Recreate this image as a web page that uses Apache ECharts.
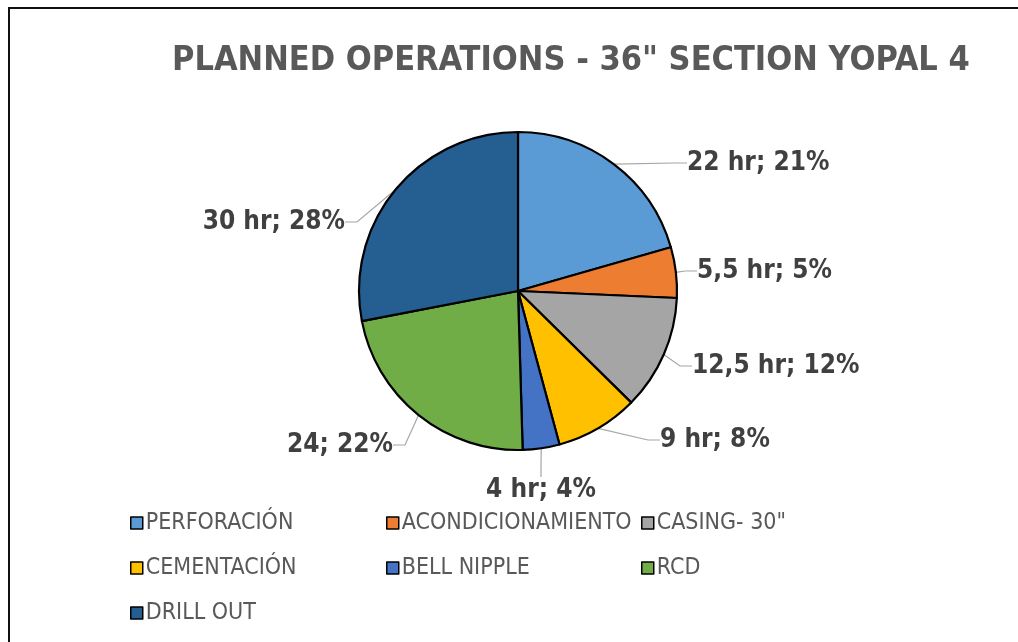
<!DOCTYPE html>
<html>
<head>
<meta charset="utf-8">
<script src="https://cdn.jsdelivr.net/npm/echarts@6/dist/echarts.min.js"></script>
<style>
  html, body { margin: 0; padding: 0; background: #fff; }
  #chart { width: 1018px; height: 642px; }
</style>
</head>
<body>
<div id="chart"></div>
<script>
const categories = ['PERFORACIÓN', 'ACONDICIONAMIENTO', 'CASING- 30"', 'CEMENTACIÓN', 'BELL NIPPLE', 'RCD', 'DRILL OUT'];
const hours = [22, 5.5, 12.5, 9, 4, 24, 30];
const units = ['hr', 'hr', 'hr', 'hr', 'hr', '', 'hr'];
const colors = ['#5B9BD5', '#ED7D31', '#A5A5A5', '#FFC000', '#4472C4', '#70AD47', '#255E91'];

// legend columns like the Excel layout
const legendCols = [
  ['PERFORACIÓN', 'CEMENTACIÓN', 'DRILL OUT'],
  ['ACONDICIONAMIENTO', 'BELL NIPPLE'],
  ['CASING- 30"', 'RCD']
];
const legendLeft = [130, 386, 641];

// where Excel put the data labels (anchor x, middle y, align)
const labelSpots = [
  [687, 163, 'left'],
  [697, 271, 'left'],
  [692, 366, 'left'],
  [660, 440, 'left'],
  [541, 490, 'center'],
  [393, 445, 'right'],
  [345, 222, 'right']
];

const font = "'Liberation Sans Narrow', 'DejaVu Sans Condensed', sans-serif";

const chart = echarts.init(document.getElementById('chart'));

const legends = legendCols.map((names, i) => ({
  data: names,
  orient: 'vertical',
  left: legendLeft[i],
  top: 511,
  padding: 0,
  itemGap: 21,
  itemWidth: 12,
  itemHeight: 12,
  icon: 'rect',
  itemStyle: { borderColor: '#000', borderWidth: 1.5 },
  textStyle: { fontFamily: font, fontSize: 23, color: '#595959', lineHeight: 24, padding: [0, 0, 0, -2] }
}));

chart.setOption({
  animation: false,
  color: colors,
  title: {
    text: 'PLANNED OPERATIONS - 36" SECTION YOPAL 4',
    left: 172,
    top: 44,
    padding: 0,
    textStyle: { fontFamily: font, fontSize: 34, fontWeight: 'bold', color: '#595959' }
  },
  legend: legends,
  graphic: [{
    type: 'rect',
    shape: { x: 9, y: 8, width: 1100, height: 700 },
    style: { fill: 'none', stroke: '#111', lineWidth: 2 },
    silent: true
  }],
  series: [{
    type: 'pie',
    center: [518, 291],
    radius: 159,
    startAngle: 90,
    clockwise: true,
    avoidLabelOverlap: false,
    itemStyle: { borderColor: '#000', borderWidth: 2.2 },
    label: {
      show: true,
      position: 'outside',
      fontFamily: font,
      fontSize: 26,
      fontWeight: 'bold',
      color: '#404040',
      formatter: p => String(p.value).replace('.', ',') + (units[p.dataIndex] ? ' ' + units[p.dataIndex] : '') + '; ' + Math.round(p.percent) + '%'
    },
    labelLine: {
      show: true,
      length: 14,
      length2: 12,
      lineStyle: { color: '#A6A6A6', width: 1.2 }
    },
    labelLayout: p => {
      const s = labelSpots[p.dataIndex];
      return { x: s[0], y: s[1], align: s[2], verticalAlign: 'middle', hideOverlap: false };
    },
    emphasis: { disabled: true },
    data: categories.map((name, i) => ({ name, value: hours[i] }))
  }]
});
</script>
</body>
</html>
